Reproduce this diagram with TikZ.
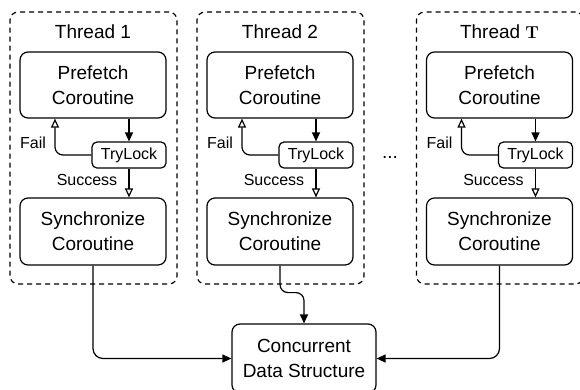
\documentclass[tikz,border=0pt]{standalone}
\usepackage[no-math]{fontspec}
\setmainfont{Liberation Sans}
\usetikzlibrary{arrows.meta}
\begin{document}
\begin{tikzpicture}[x=1pt,y=-1pt,
  blk/.style={draw, rounded corners=8pt, line width=1.2pt, minimum width=146pt, minimum height=66pt, align=center, inner sep=0pt, font=\fontsize{19}{25}\selectfont},
  lock/.style={draw, rounded corners=5pt, line width=1.2pt, minimum width=74pt, minimum height=26pt, inner sep=0pt, font=\fontsize{16}{19}\selectfont},
  lbl/.style={inner sep=0pt, font=\fontsize{16}{19}\selectfont},
  ttl/.style={inner sep=0pt, font=\fontsize{19}{23}\selectfont},
  thr/.style={draw, dash pattern=on 5pt off 4pt, rounded corners=8pt, line width=1.2pt, inner sep=0pt},
  conn/.style={line width=1.2pt, -{Triangle[length=9pt,width=8pt]}},
  oconn/.style={line width=1.2pt, -{Triangle[open,length=9pt,width=8pt]}},
]
\useasboundingbox (0,0) rectangle (580,389);
\begin{scope}
\clip (0,0) rectangle (580,389);
\foreach \c/\i/\t in {93/1/{Thread 1}, 280/2/{Thread 2}, 499.5/3/{Thread $\mathbf{T}$}}{
  \node[thr, minimum width=167pt, minimum height=272pt] (th\i) at (\c+0.5,148) {};
  \node[ttl] (tt\i) at (\c,32) {\t};
  \node[blk] (pf\i) at (\c,85) {Prefetch\\Coroutine};
  \node[lock] (tl\i) at (\c+36,155) {TryLock};
  \node[blk, minimum height=67pt] (sy\i) at (\c,231.5) {Synchronize\\Coroutine};
  \node[lbl] (fl\i) at (\c-60,143) {Fail};
  \node[lbl] (sc\i) at (\c-6,180) {Success};
  \draw[conn] (tl\i.north |- pf\i.south) -- (tl\i.north);
  \draw[oconn, rounded corners=8pt] (tl\i.west) -| ([xshift=-38pt]pf\i.south);
  \draw[oconn] (tl\i.south) -- (tl\i.south |- sy\i.north);
}
\node[blk, minimum width=144pt, minimum height=69pt] (cds) at (304,358.5) {Concurrent\\Data Structure};
\node[ttl] (dots) at (390,157) {...};
\draw[conn, rounded corners=10pt] (sy1.south) |- (cds.west);
\draw[conn, rounded corners=10pt] (sy3.south) |- (cds.east);
\draw[conn, rounded corners=8pt] (sy2.south) -- ++(0,27) -| (cds.north);
\end{scope}
\end{tikzpicture}
\end{document}
